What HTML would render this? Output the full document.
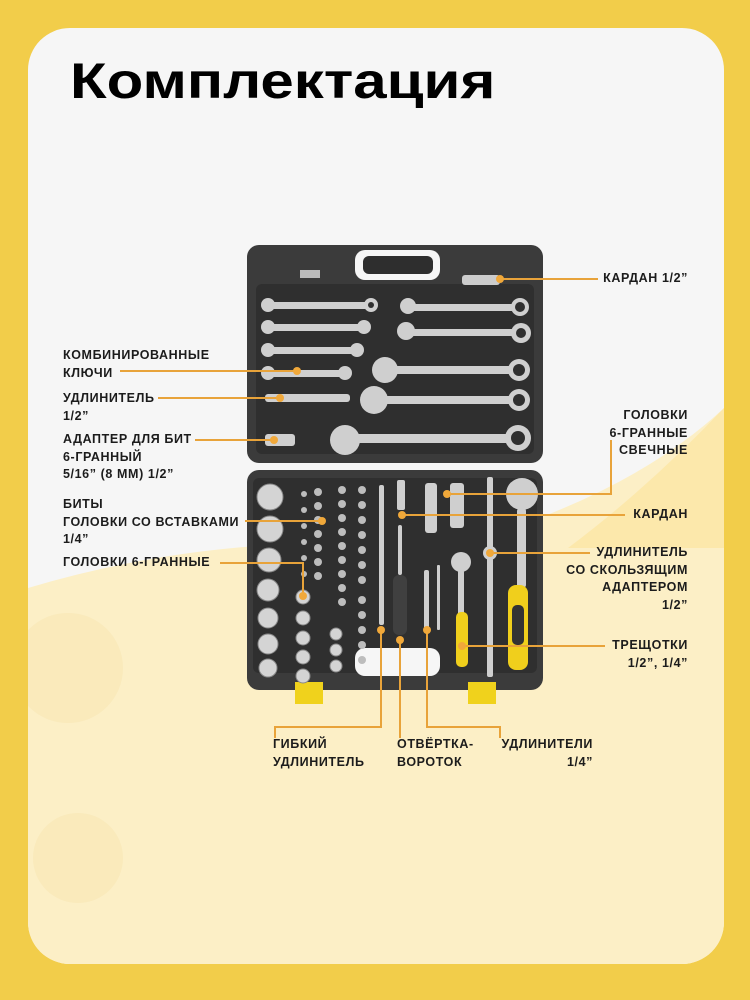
<!DOCTYPE html>
<html><head><meta charset="utf-8"><style>
html,body{margin:0;padding:0}
body{width:750px;height:1000px;background:#f2cd4a;position:relative;overflow:hidden;font-family:"Liberation Sans","DejaVu Sans",sans-serif}
.inner{position:absolute;left:28px;top:28px;width:696px;height:936px;border-radius:42px;background:#f6f6f6;overflow:hidden}
h1{position:absolute;left:70px;top:52px;margin:0;font-size:50px;font-weight:bold;color:#000;transform:scaleX(1.2);transform-origin:0 0}
.l{position:absolute;font-size:12.5px;font-weight:bold;color:#1c1c1c;line-height:17.5px;white-space:nowrap;letter-spacing:0.6px}
.r{text-align:right}
</style></head><body>
<div class="inner">
<svg width="696" height="936" style="position:absolute;left:0;top:0">
<path d="M0 560 Q200 500 420 520 Q600 470 696 380 L696 936 L0 936Z" fill="#fcefc6"/>
<path d="M696 380 Q620 460 540 520 L696 520Z" fill="#fbe39a" opacity="0.6"/>
<g fill="#f8e6b0" opacity="0.5">
<circle cx="40" cy="640" r="55"/><circle cx="50" cy="830" r="45"/>
</g>
</svg>
</div>
<h1>Комплектация</h1>
<svg width="750" height="1000" style="position:absolute;left:0;top:0">
<!-- lid -->
<rect x="247" y="245" width="296" height="218" rx="12" fill="#3b3b3b"/>
<rect x="355" y="250" width="85" height="30" rx="10" fill="#f6f6f6"/>
<rect x="363" y="256" width="70" height="18" rx="6" fill="#2e2e2e"/>
<rect x="256" y="284" width="278" height="170" rx="6" fill="#2f2f2f"/>
<rect x="300" y="270" width="20" height="8" fill="#bbb"/>
<rect x="462" y="275" width="38" height="10" rx="3" fill="#ccc"/>
<g fill="#cfcfcf">
<rect x="270" y="302" width="105" height="7" rx="3"/><circle cx="371" cy="305" r="7"/><circle cx="268" cy="305" r="7"/>
<rect x="270" y="324" width="98" height="7" rx="3"/><circle cx="364" cy="327" r="7"/><circle cx="268" cy="327" r="7"/>
<rect x="270" y="347" width="92" height="7" rx="3"/><circle cx="357" cy="350" r="7"/><circle cx="268" cy="350" r="7"/>
<rect x="270" y="370" width="80" height="7" rx="3"/><circle cx="345" cy="373" r="7"/><circle cx="268" cy="373" r="7"/>
<rect x="265" y="394" width="85" height="8" rx="3"/>
<rect x="265" y="434" width="30" height="12" rx="3"/>
<rect x="405" y="304" width="115" height="7" rx="3"/><circle cx="520" cy="307" r="9"/><circle cx="408" cy="306" r="8"/>
<rect x="405" y="329" width="115" height="7" rx="3"/><circle cx="521" cy="333" r="10"/><circle cx="406" cy="331" r="9"/>
<rect x="385" y="366" width="135" height="8" rx="3"/><circle cx="519" cy="370" r="11"/><circle cx="385" cy="370" r="13"/>
<rect x="375" y="396" width="145" height="8" rx="3"/><circle cx="519" cy="400" r="11"/><circle cx="374" cy="400" r="14"/>
<rect x="350" y="434" width="170" height="9" rx="3"/><circle cx="518" cy="438" r="13"/><circle cx="345" cy="440" r="15"/>
</g>
<g fill="#2f2f2f"><circle cx="371" cy="305" r="3"/><circle cx="520" cy="307" r="5"/><circle cx="521" cy="333" r="5"/><circle cx="519" cy="370" r="6"/><circle cx="519" cy="400" r="6"/><circle cx="518" cy="438" r="7"/></g>
<!-- tray -->
<rect x="247" y="470" width="296" height="220" rx="12" fill="#3b3b3b"/>
<rect x="253" y="478" width="284" height="195" rx="6" fill="#2f2f2f"/>
<rect x="355" y="648" width="85" height="28" rx="10" fill="#f6f6f6"/>
<rect x="295" y="682" width="28" height="22" fill="#f0d21c"/>
<rect x="468" y="682" width="28" height="22" fill="#f0d21c"/>
<g fill="#d4d4d4" stroke="#888" stroke-width="1">
<circle cx="270" cy="497" r="13"/><circle cx="270" cy="529" r="13"/><circle cx="269" cy="560" r="12"/><circle cx="268" cy="590" r="11"/><circle cx="268" cy="618" r="10"/><circle cx="268" cy="644" r="10"/><circle cx="268" cy="668" r="9"/>
<circle cx="303" cy="597" r="7"/><circle cx="303" cy="618" r="7"/><circle cx="303" cy="638" r="7"/><circle cx="303" cy="657" r="7"/><circle cx="303" cy="676" r="7"/>
<circle cx="336" cy="634" r="6"/><circle cx="336" cy="650" r="6"/><circle cx="336" cy="666" r="6"/>
</g>
<g fill="#bdbdbd">
<circle cx="318" cy="492" r="4"/><circle cx="318" cy="506" r="4"/><circle cx="318" cy="520" r="4"/><circle cx="318" cy="534" r="4"/><circle cx="318" cy="548" r="4"/><circle cx="318" cy="562" r="4"/><circle cx="318" cy="576" r="4"/>
<circle cx="342" cy="490" r="4"/><circle cx="342" cy="504" r="4"/><circle cx="342" cy="518" r="4"/><circle cx="342" cy="532" r="4"/><circle cx="342" cy="546" r="4"/><circle cx="342" cy="560" r="4"/><circle cx="342" cy="574" r="4"/><circle cx="342" cy="588" r="4"/><circle cx="342" cy="602" r="4"/>
<circle cx="362" cy="490" r="4"/><circle cx="362" cy="505" r="4"/><circle cx="362" cy="520" r="4"/><circle cx="362" cy="535" r="4"/><circle cx="362" cy="550" r="4"/><circle cx="362" cy="565" r="4"/><circle cx="362" cy="580" r="4"/><circle cx="362" cy="600" r="4"/><circle cx="362" cy="615" r="4"/><circle cx="362" cy="630" r="4"/><circle cx="362" cy="645" r="4"/><circle cx="362" cy="660" r="4"/>
<circle cx="304" cy="494" r="3"/><circle cx="304" cy="510" r="3"/><circle cx="304" cy="526" r="3"/><circle cx="304" cy="542" r="3"/><circle cx="304" cy="558" r="3"/><circle cx="304" cy="574" r="3"/>
</g>
<g fill="#cfcfcf">
<rect x="379" y="485" width="5" height="140" rx="2"/>
<rect x="397" y="480" width="8" height="30" rx="2"/>
<rect x="398" y="525" width="4" height="50" rx="2"/>
<rect x="393" y="575" width="14" height="60" rx="6" fill="#404040"/>
<rect x="425" y="483" width="12" height="50" rx="3"/>
<rect x="450" y="483" width="14" height="45" rx="3"/>
<rect x="424" y="570" width="5" height="60" rx="2"/>
<rect x="437" y="565" width="3" height="65" rx="1"/>
<rect x="487" y="477" width="6" height="200" rx="2"/>
<circle cx="490" cy="553" r="7"/>
<circle cx="461" cy="562" r="10"/><rect x="458" y="570" width="6" height="45" rx="2"/>
<circle cx="522" cy="494" r="16"/><rect x="517" y="508" width="9" height="80" rx="3"/>
</g>
<rect x="456" y="612" width="12" height="55" rx="5" fill="#f0cf1c"/>
<rect x="508" y="585" width="20" height="85" rx="8" fill="#f0cf1c"/>
<rect x="512" y="605" width="12" height="40" rx="5" fill="#333"/>
<!-- connectors -->
<g stroke="#e8a33a" stroke-width="2" fill="none">
<path d="M500 279H598"/>
<path d="M120 371H297"/>
<path d="M158 398H280"/>
<path d="M195 440H274"/>
<path d="M611 440V494H447"/>
<path d="M245 521H322"/>
<path d="M220 563H303V596"/>
<path d="M402 515H625"/>
<path d="M490 553H590"/>
<path d="M462 646H605"/>
<path d="M381 630V727H275V738"/>
<path d="M400 640V738"/>
<path d="M427 630V727H500V738"/>
</g>
<g fill="#f0a83a">
<circle cx="500" cy="279" r="4"/><circle cx="297" cy="371" r="4"/><circle cx="280" cy="398" r="4"/><circle cx="274" cy="440" r="4"/><circle cx="447" cy="494" r="4"/><circle cx="322" cy="521" r="4"/><circle cx="303" cy="596" r="4"/><circle cx="402" cy="515" r="4"/><circle cx="490" cy="553" r="4"/><circle cx="462" cy="646" r="4"/><circle cx="381" cy="630" r="4"/><circle cx="400" cy="640" r="4"/><circle cx="427" cy="630" r="4"/>
</g>
</svg>
<div class="l r" style="right:62px;top:270px">КАРДАН 1/2”</div>
<div class="l" style="left:63px;top:347px">КОМБИНИРОВАННЫЕ<br>КЛЮЧИ</div>
<div class="l" style="left:63px;top:390px">УДЛИНИТЕЛЬ<br>1/2”</div>
<div class="l" style="left:63px;top:431px">АДАПТЕР ДЛЯ БИТ<br>6-ГРАННЫЙ<br>5/16” (8 ММ) 1/2”</div>
<div class="l r" style="right:62px;top:407px">ГОЛОВКИ<br>6-ГРАННЫЕ<br>СВЕЧНЫЕ</div>
<div class="l" style="left:63px;top:496px">БИТЫ<br>ГОЛОВКИ СО ВСТАВКАМИ<br>1/4”</div>
<div class="l" style="left:63px;top:554px">ГОЛОВКИ 6-ГРАННЫЕ</div>
<div class="l r" style="right:62px;top:506px">КАРДАН</div>
<div class="l r" style="right:62px;top:544px">УДЛИНИТЕЛЬ<br>СО СКОЛЬЗЯЩИМ<br>АДАПТЕРОМ<br>1/2”</div>
<div class="l r" style="right:62px;top:637px">ТРЕЩОТКИ<br>1/2”, 1/4”</div>
<div class="l" style="left:273px;top:736px">ГИБКИЙ<br>УДЛИНИТЕЛЬ</div>
<div class="l" style="left:397px;top:736px">ОТВЁРТКА-<br>ВОРОТОК</div>
<div class="l r" style="right:157px;top:736px">УДЛИНИТЕЛИ<br>1/4”</div>
</body></html>
